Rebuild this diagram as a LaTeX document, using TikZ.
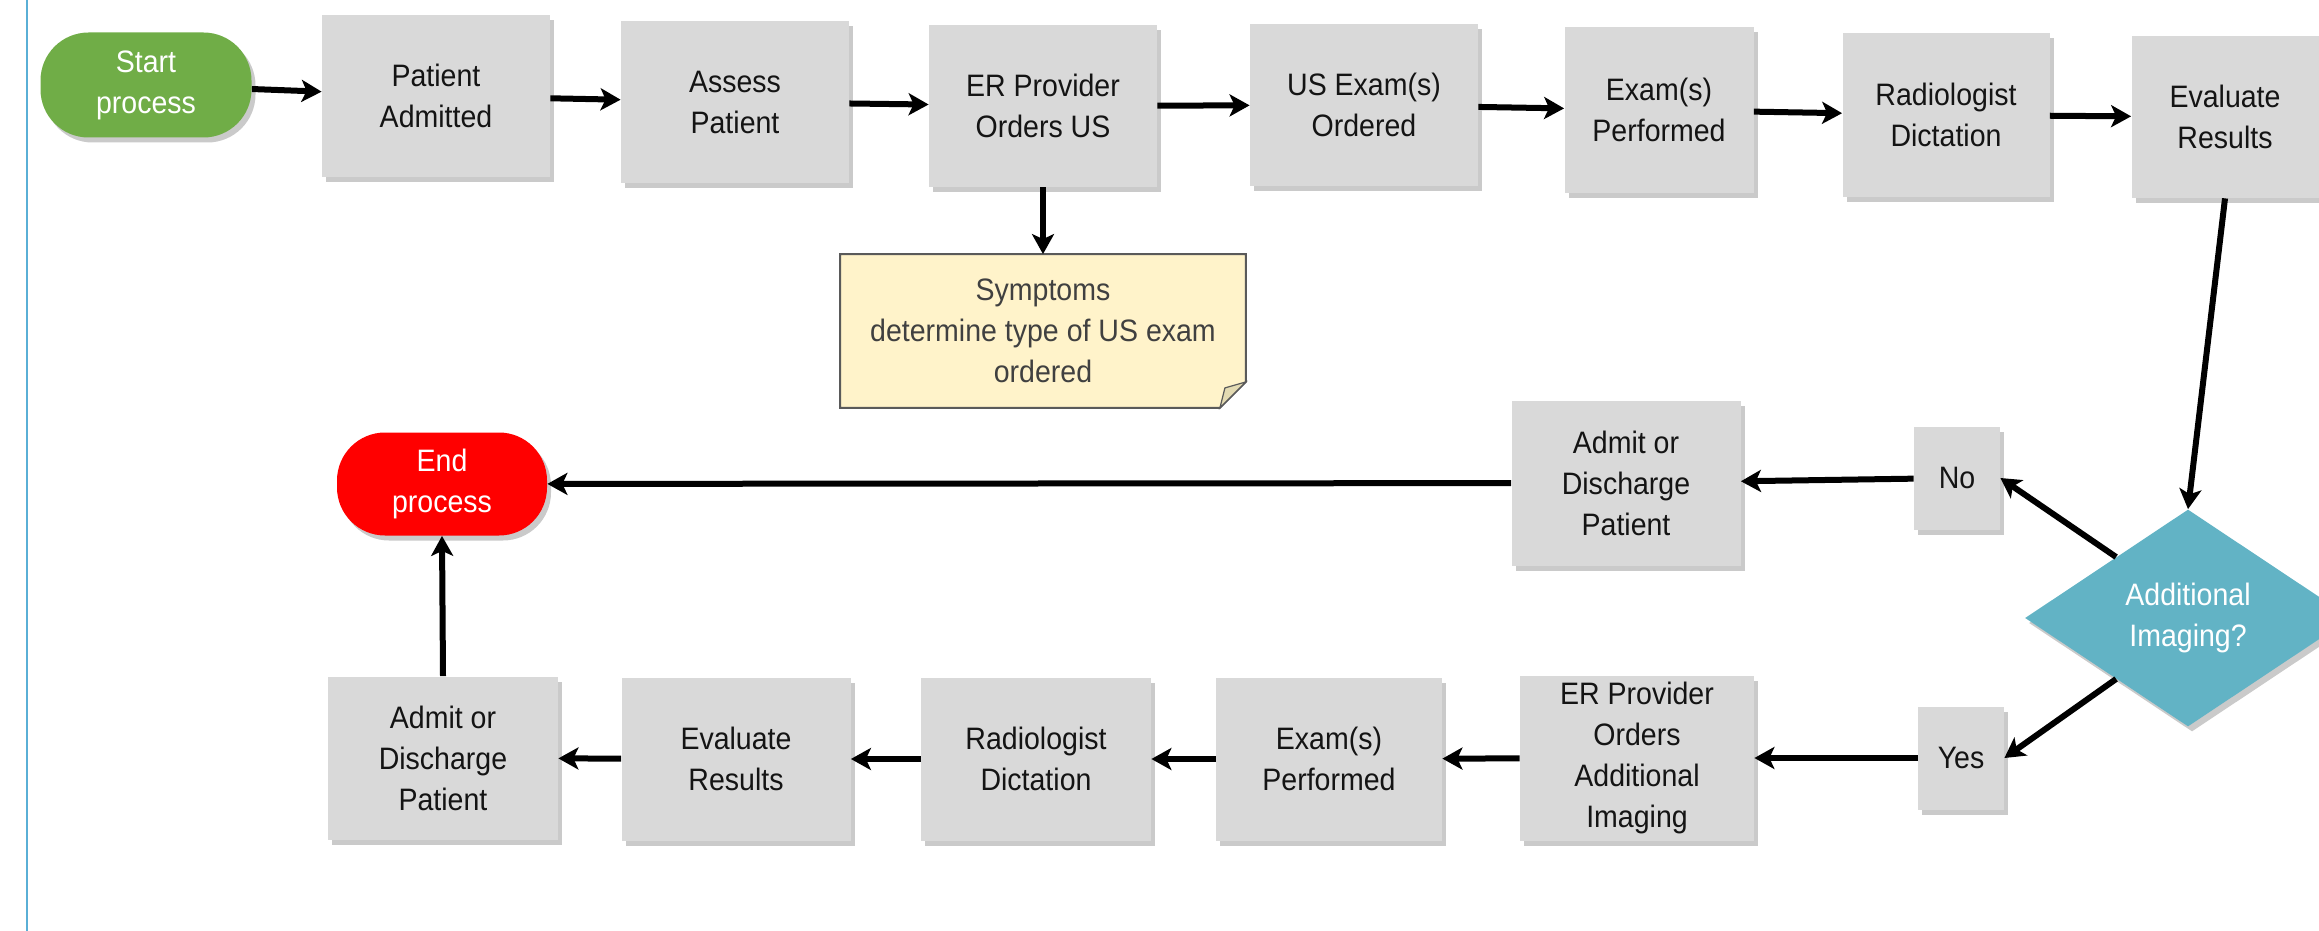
\documentclass[tikz,border=0pt]{standalone}
\usepackage{fontspec}
\setmainfont{Liberation Sans}[FakeStretch=0.92]
\usetikzlibrary{shapes.geometric,arrows.meta,shadows,calc,backgrounds}
\definecolor{boxgray}{HTML}{D9D9D9}
\definecolor{startgreen}{HTML}{70AD47}
\definecolor{endred}{HTML}{FF0000}
\definecolor{teal}{HTML}{62B3C5}
\definecolor{notefill}{HTML}{FFF3CA}
\definecolor{notefold}{HTML}{E3DAB2}
\definecolor{noteedge}{HTML}{5A5A5A}
\definecolor{notetext}{HTML}{404040}
\definecolor{edgeblue}{HTML}{5AAFD6}
\begin{document}
\begin{tikzpicture}[x=0.5pt,y=-0.5pt,
  wh/.style 2 args={minimum width=#1*0.5pt, minimum height=#2*0.5pt},
  base/.style={inner sep=0pt, align=center, font=\fontsize{15.5}{20.5}\selectfont},
  shad/.style={drop shadow={shadow xshift=2pt, shadow yshift=-2.5pt, opacity=0.35, fill=black!60}},
  proc/.style={base, shad, fill=boxgray, text=black!92},
  pill/.style={base, shad, rounded corners=24pt, text=white},
  decide/.style={base, shad, shape=diamond, aspect=1.5, fill=teal, text=white},
  notebox/.style={base, text=notetext},
  arr/.style={line width=3pt, -{Stealth[length=10pt,width=11pt,inset=2.5pt]}}
]
\useasboundingbox (0,0) rectangle (2319,931);
\clip (0,0) rectangle (2319,931);

\draw[edgeblue, line width=1.2pt] (27,0) -- (27,931);

% top row
\node[pill, fill=startgreen, wh={211}{105}] (start) at (146,85) {Start\\process};
\node[proc, wh={228}{162}] (pa) at (436,96) {Patient\\Admitted};
\node[proc, wh={228}{162}] (ap) at (735,102) {Assess\\Patient};
\node[proc, wh={228}{162}] (erus) at (1043,106) {ER Provider\\Orders US};
\node[proc, wh={228}{162}] (usx) at (1364,105) {US Exam(s)\\Ordered};
\node[proc, wh={189}{165}] (exp1) at (1659,110) {Exam(s)\\Performed};
\node[proc, wh={207}{164}] (rad1) at (1946,115) {Radiologist\\Dictation};
\node[proc, wh={187}{162}] (eval1) at (2225,117) {Evaluate\\Results};

% note
\node[notebox, wh={405}{153}] (note) at (1043,331) {Symptoms\\determine type of US exam\\ordered};
\begin{pgfonlayer}{background}
\fill[black!60, opacity=0.35, xshift=2pt, yshift=-2.5pt]
  (note.north west) -- (note.north east) -- ($(note.south east)+(0,-26)$)
  -- ($(note.south east)+(-26,0)$) -- (note.south west) -- cycle;
\filldraw[fill=notefill, draw=noteedge, line width=1pt]
  (note.north west) -- (note.north east) -- ($(note.south east)+(0,-26)$)
  -- ($(note.south east)+(-26,0)$) -- (note.south west) -- cycle;
\filldraw[fill=notefold, draw=noteedge, line width=0.6pt]
  ($(note.south east)+(0,-26)$) -- ($(note.south east)+(-21,-20)$)
  -- ($(note.south east)+(-26,0)$) -- cycle;
\end{pgfonlayer}

% middle row
\node[pill, fill=endred, wh={210}{103}] (endp) at (442,484) {End\\process};
\node[proc, wh={229}{165}] (adm1) at (1626,483) {Admit or\\Discharge\\Patient};
\node[proc, wh={86}{103}] (no) at (1957,478) {No};
\node[decide, wh={326}{217}] (dia) at (2188,618) {Additional\\Imaging?};

% bottom row
\node[proc, wh={86}{103}] (yes) at (1961,758) {Yes};
\node[proc, wh={234}{165}] (eradd) at (1637,758) {ER Provider\\Orders\\Additional\\Imaging};
\node[proc, wh={226}{163}] (exp2) at (1329,759) {Exam(s)\\Performed};
\node[proc, wh={230}{163}] (rad2) at (1036,759) {Radiologist\\Dictation};
\node[proc, wh={229}{163}] (eval2) at (736,759) {Evaluate\\Results};
\node[proc, wh={230}{163}] (adm2) at (443,758) {Admit or\\Discharge\\Patient};

% connectors
\draw[arr] (start) -- (pa);
\draw[arr] (pa) -- (ap);
\draw[arr] (ap) -- (erus);
\draw[arr] (erus) -- (usx);
\draw[arr] (usx) -- (exp1);
\draw[arr] (exp1) -- (rad1);
\draw[arr] (rad1) -- (eval1);
\draw[arr] (erus.south) -- (note.north);
\draw[arr] (eval1.south) -- (dia.north);
\draw[arr] ($(dia.north)!0.44!(dia.west)$) -- (no.east);
\draw[arr] (no) -- (adm1);
\draw[arr] (adm1) -- (endp);
\draw[arr] ($(dia.south)!0.44!(dia.west)$) -- (yes.east);
\draw[arr] (yes) -- (eradd);
\draw[arr] (eradd) -- (exp2);
\draw[arr] (exp2) -- (rad2);
\draw[arr] (rad2) -- (eval2);
\draw[arr] (eval2) -- (adm2);
\draw[arr] (adm2.north) -- (endp.south);
\end{tikzpicture}
\end{document}
